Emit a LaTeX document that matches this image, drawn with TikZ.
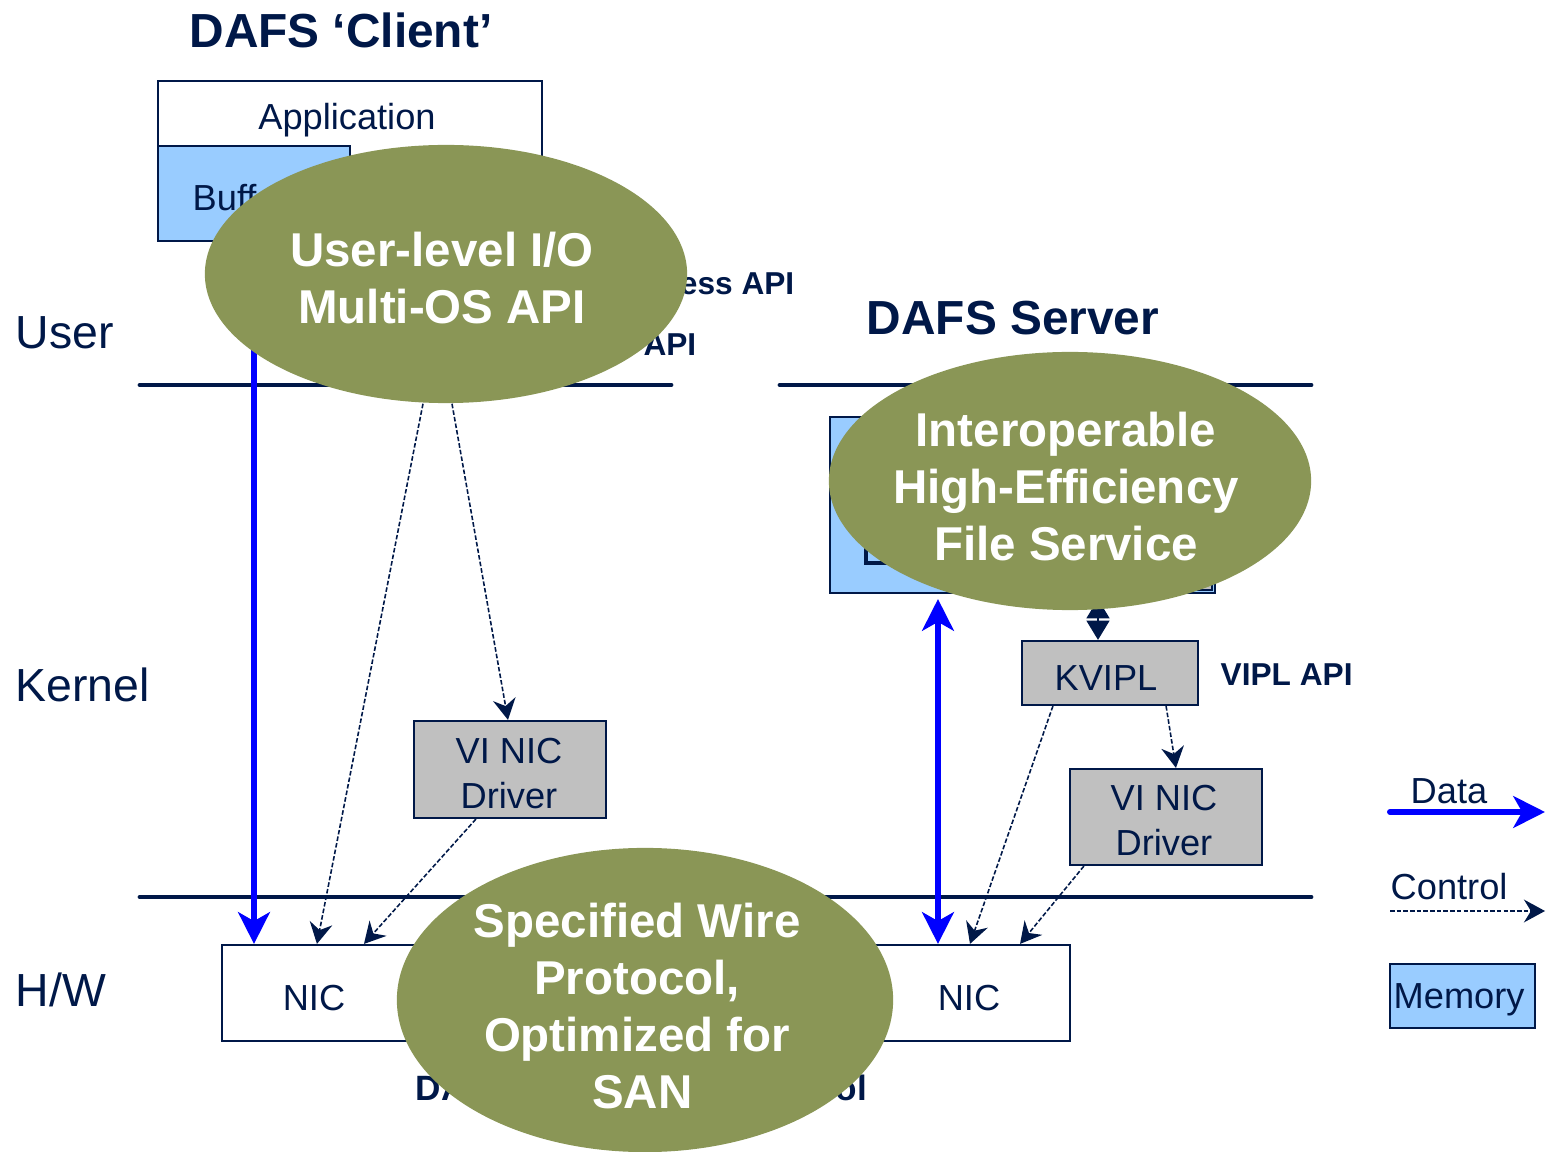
\documentclass[tikz,border=0pt]{standalone}
\usepackage{fontspec}
\setmainfont{Liberation Sans}
\usepackage{xcolor}
\usetikzlibrary{positioning, shapes.geometric, arrows.meta}

\definecolor{navy}{HTML}{001848}
\definecolor{olivefill}{HTML}{8A9656}
\definecolor{memblue}{HTML}{99CCFF}
\definecolor{boxgray}{HTML}{C0C0C0}
\definecolor{datablue}{HTML}{0000FF}

\newcommand\boxfont{\fontsize{10.3}{12.8}\selectfont}
\newcommand\layerfont{\fontsize{13.2}{15.8}\selectfont}
\newcommand\titlefont{\bfseries\fontsize{13.6}{16}\selectfont}
\newcommand\bubblefont{\bfseries\fontsize{13.5}{16.2}\selectfont}
\newcommand\apifont{\bfseries\fontsize{9}{11}\selectfont}

\begin{document}
\begin{tikzpicture}[x=0.01cm, y=-0.01cm,
    every node/.style={text=navy, inner sep=0pt},
    box/.style={draw=navy, line width=0.6pt},
    boxtext/.style={font=\boxfont, align=center},
    layer/.style={draw=navy, line width=1.4pt, line cap=round},
    data/.style={draw=datablue, line width=1.7pt, -{Stealth[length=9pt, width=9pt, inset=2.5pt]}},
    databoth/.style={draw=datablue, line width=1.7pt, {Stealth[length=9pt, width=9pt, inset=2.5pt]}-{Stealth[length=9pt, width=9pt, inset=2.5pt]}},
    ctrl/.style={draw=navy, line width=0.45pt, dash pattern=on 1.3pt off 0.6pt, -{Stealth[length=6pt, width=6.5pt, inset=2pt]}},
    syncarrow/.style={draw=navy, line width=0.6pt, {Triangle[length=5.5pt, width=6.5pt]}-{Triangle[length=5.5pt, width=6.5pt]}},
    bubble/.style={ellipse, fill=olivefill},
    bubbletext/.style={text=white, font=\bubblefont, align=center}]
    \useasboundingbox (0,0) rectangle (1551,1152);

    % Titles and layers
    \node[font=\titlefont] (clienttitle) at (341,30) {DAFS ‘Client’};
    \node[font=\titlefont] (servertitle) at (1013,318) {DAFS Server};
    \node[font=\layerfont, anchor=west] (user) at (15,333) {User};
    \node[font=\layerfont, anchor=west] (kernel) at (15,685) {Kernel};
    \node[font=\layerfont, anchor=west] (hw) at (15,990) {H/W};

    \draw[layer] (140,385) -- (671,385);
    \draw[layer] (780,385) -- (1311,385);
    \draw[layer] (140,897) -- (1311,897);

    % Client side
    \node[box, minimum width=3.84cm, minimum height=1.6cm] (app) at (350,161) {};
    \node[box, fill=memblue, minimum width=1.92cm, minimum height=0.95cm] (buf) at (254,193.5) {};
    \node[boxtext] (apptxt) at (347,120) {Application};
    \node[boxtext, anchor=west] (buftxt) at (192,198) {Buffers};
    \node[font=\apifont, anchor=east] (accessapi) at (795,283) {File Access API};
    \node[font=\apifont, anchor=east] (viplapi1) at (697,345) {VIPL API};
    \node[box, fill=boxgray, minimum width=1.92cm, minimum height=0.97cm] (drv1) at (510,769.5) {};
    \node[boxtext] (drv1txt) at (509,774) {VI NIC\\Driver};
    \node[box, minimum width=2.08cm, minimum height=0.96cm] (nic1) at (326,993) {};
    \node[boxtext] (nic1txt) at (314,998) {NIC};

    % Server side
    \node[box, fill=memblue, minimum width=3.85cm, minimum height=1.76cm] (srv) at (1022.5,505) {};
    \node[box, fill=boxgray, minimum width=2.12cm, minimum height=1.2cm] (srvproc) at (1106,530) {};
    \node[box, fill=memblue, line width=1.2pt, minimum width=0.94cm, minimum height=0.3cm] (srvbuf) at (913,548) {};
    \node[box, fill=boxgray, minimum width=1.76cm, minimum height=0.64cm] (kvipl) at (1110,673) {};
    \node[boxtext] (kvipltxt) at (1106,678) {KVIPL};
    \node[font=\apifont, anchor=west] (viplapi2) at (1220,675) {VIPL API};
    \node[box, fill=boxgray, minimum width=1.92cm, minimum height=0.96cm] (drv2) at (1166,817) {};
    \node[boxtext] (drv2txt) at (1164,821) {VI NIC\\Driver};
    \node[box, minimum width=2.0cm, minimum height=0.96cm] (nic2) at (970,993) {};
    \node[boxtext] (nic2txt) at (969,998) {NIC};
    \node[font=\bfseries\fontsize{10}{12}\selectfont, anchor=west] (protocol) at (415,1088) {DAFS File Access Protocol};

    % Data paths
    \draw[data] (buf.south) -- (buf.south |- nic1.north);
    \draw[databoth, shorten >=1.4pt] ([xshift=-0.32cm]nic2.north) -- ([xshift=-0.32cm]nic2.north |- srv.south);
    \draw[syncarrow, shorten <=1.4pt] ([xshift=-0.12cm]kvipl.north |- srv.south) -- ([xshift=-0.12cm]kvipl.north);

    % Bubbles
    \node[bubble, minimum width=4.82cm, minimum height=2.58cm] (uio) at (446,274) {};
    \node[bubbletext] (uiotxt) at (442,278) {User-level I/O\\Multi-OS API};
    \node[bubble, minimum width=4.82cm, minimum height=2.58cm] (hefs) at (1070,481) {};
    \node[bubbletext] (hefstxt) at (1066,487) {Interoperable\\High-Efficiency\\File Service};
    \node[bubble, minimum width=4.96cm, minimum height=3.04cm] (wire) at (645,1000) {};
    \node[bubbletext] (wiretxt) at (637,1006) {Specified Wire\\Protocol,\\Optimized for\\\hspace*{3pt}SAN};

    % Control paths
    \draw[ctrl] ([xshift=-0.23cm]uio.south) -- ([xshift=0.96cm]nic1.north west);
    \draw[ctrl] ([xshift=0.06cm]uio.south) -- ([xshift=-0.02cm]drv1.north);
    \draw[ctrl] ([xshift=0.63cm]drv1.south west) -- ([xshift=1.43cm]nic1.north west);
    \draw[ctrl] ([xshift=0.32cm]kvipl.south west) -- (nic2.north);
    \draw[ctrl] ([xshift=-0.33cm]kvipl.south east) -- ([xshift=1.07cm]drv2.north west);
    \draw[ctrl] ([xshift=0.15cm]drv2.south west) -- ([xshift=0.5cm]nic2.north);

    % Legend
    \node[boxtext, anchor=west] (datatxt) at (1410,791) {Data};
    \coordinate (dataA) at (1390,812);
    \coordinate (dataB) at (1545,812);
    \draw[data, line cap=round] (dataA) -- (dataB);
    \node[boxtext, anchor=west] (ctrltxt) at (1390,887) {Control};
    \coordinate (ctrlA) at (1390,911);
    \coordinate (ctrlB) at (1545,911);
    \draw[ctrl] (ctrlA) -- (ctrlB);
    \node[box, fill=memblue, minimum width=1.45cm, minimum height=0.64cm] (mem) at (1462.5,996) {};
    \node[boxtext, anchor=west] (memtxt) at (1393,1000) {Memory};
\end{tikzpicture}
\end{document}
